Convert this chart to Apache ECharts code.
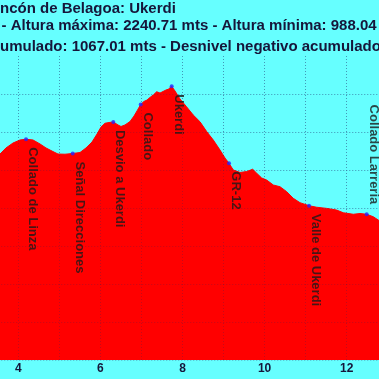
<!DOCTYPE html>
<html>
<head>
<meta charset="utf-8">
<script src="https://cdn.jsdelivr.net/npm/echarts@6/dist/echarts.min.js"></script>
<style>
html,body{margin:0;padding:0;background:#66ffff;}
#chart{width:379px;height:379px;}
</style>
</head>
<body>
<div id="chart"></div>
<script>
// Profile data: distance (km) and altitude (m)
const distKm = [3.481,3.554,3.700,3.871,4.041,4.188,4.358,4.529,4.675,4.845,4.967,5.138,5.325,5.503,5.649,5.795,5.917,6.015,6.112,6.210,6.314,6.429,6.502,6.599,6.721,6.819,6.892,6.982,7.062,7.135,7.208,7.289,7.372,7.452,7.525,7.598,7.654,7.737,7.817,7.939,8.102,8.263,8.426,8.590,8.750,8.914,9.035,9.133,9.238,9.401,9.564,9.710,9.808,9.929,10.051,10.212,10.375,10.538,10.699,10.862,11.082,11.269,11.513,11.756,11.917,12.161,12.324,12.487,12.648,12.787,12.909];
const altM = [1863,1884,1916,1942,1958,1962,1958,1937,1916,1897,1884,1883,1887,1892,1916,1947,1989,2026,2046,2050,2053,2037,2029,2037,2055,2084,2111,2145,2161,2168,2182,2195,2212,2205,2213,2221,2225,2240.71,2216,2174,2132,2089,2054,2002,1958,1905,1863,1835,1800,1787,1792,1804,1783,1758,1747,1721,1712,1686,1651,1628,1612,1604,1598,1589,1575,1567,1571,1567,1554,1534,1521];

// Waypoints
const wpNames = ['Collado de Linza','Señal Direcciones','Desvio a Ukerdi','Collado','Ukerdi','GR-12','Valle de Ukerdi','Collado Larreria'];
const wpKm = [4.188,5.325,6.314,6.982,7.737,9.133,11.082,12.487];
const wpAlt = [1962,1887,2053,2145,2240.71,1835,1612,1567];
const wpAbove = [false,false,false,false,false,false,false,true];

// Axis tick labels
const xTickLabels = [4,6,8,10,12];

// Title lines: [hidden prefix (off-canvas), visible text]
const titleLines = [
  ['Ri', 'ncón de Belagoa: Ukerdi'],
  ['', '- Altura máxima: 2240.71 mts - Altura mínima: 988.04 mts'],
  ['Desnivel positivo ac', 'umulado: 1067.01 mts - Desnivel negativo acumulado']
];

const TITLE_FONT = 'bold 15px "Liberation Sans", Arial, sans-serif';
const cv = document.createElement('canvas').getContext('2d');
cv.font = TITLE_FONT;
const titleX = [0, 1.5, 0];
const titleY = [8.5, 25.8, 46.5];

const graphics = titleLines.map((ln, i) => ({
  type: 'text',
  x: titleX[i] - cv.measureText(ln[0]).width,
  y: titleY[i],
  z: 100,
  style: {
    text: ln[0] + ln[1],
    font: TITLE_FONT,
    fill: '#16163a',
    textAlign: 'left',
    textVerticalAlign: 'middle'
  }
}));

const profile = distKm.map((d, i) => [d, altM[i]]);
const waypoints = wpNames.map((n, i) => {
  const item = { name: n, value: [wpKm[i], wpAlt[i]] };
  if (wpAbove[i]) {
    item.label = { position: 'top', align: 'right', distance: 8 };
  }
  return item;
});

const gridLeft = 18.3 - 41.05;
const gridRight = 379 - (346.7 + 41.05);

const chart = echarts.init(document.getElementById('chart'), null, { renderer: 'canvas' });
chart.setOption({
  animation: false,
  backgroundColor: '#66ffff',
  graphic: graphics,
  grid: { left: gridLeft, right: gridRight, top: 56, bottom: 19, containLabel: false, outerBoundsMode: 'none' },
  xAxis: [
    {
      type: 'value', min: 3, max: 13, interval: 1,
      axisLine: { show: false }, axisTick: { show: false },
      axisLabel: {
        margin: 3,
        color: '#16163a', fontWeight: 'bold', fontSize: 12,
        fontFamily: '"Liberation Sans", Arial, sans-serif',
        formatter: v => xTickLabels.includes(v) ? String(v) : ''
      },
      splitLine: { show: true, lineStyle: { color: '#55b8cc', type: [1, 2], width: 1 } }
    },
    {
      type: 'value', min: 3, max: 13, interval: 1, z: 5,
      axisLine: { show: false }, axisTick: { show: false }, axisLabel: { show: false },
      splitLine: { show: true, lineStyle: { color: 'rgba(0,40,110,0.22)', type: [1, 2], width: 1 } }
    }
  ],
  yAxis: [
    {
      type: 'value', min: 800, max: 2400, interval: 200,
      axisLine: { show: false }, axisTick: { show: false }, axisLabel: { show: false },
      splitLine: { show: true, showMaxLine: false, lineStyle: { color: '#55b8cc', type: [1, 2], width: 1 } }
    },
    {
      type: 'value', min: 800, max: 2400, interval: 200, z: 5,
      axisLine: { show: false }, axisTick: { show: false }, axisLabel: { show: false },
      splitLine: { show: true, showMaxLine: false, showMinLine: false, lineStyle: { color: 'rgba(0,40,110,0.22)', type: [1, 2], width: 1 } }
    }
  ],
  series: [
    {
      type: 'line', xAxisIndex: 0, yAxisIndex: 0, data: profile,
      symbol: 'none', smooth: false,
      lineStyle: { color: '#ff0000', width: 1 },
      areaStyle: { color: '#ff0000', opacity: 1 },
      z: 2
    },
    {
      type: 'scatter', xAxisIndex: 0, yAxisIndex: 0, data: waypoints,
      symbol: 'circle', symbolSize: 4,
      itemStyle: { color: '#2424ff' },
      z: 6,
      label: {
        show: true, formatter: '{b}', rotate: -90,
        position: 'bottom', distance: 6,
        align: 'left', verticalAlign: 'bottom',
        color: '#1a1a1a', fontSize: 13, fontWeight: 'bold',
        fontFamily: '"Liberation Sans", Arial, sans-serif'
      }
    }
  ]
});
</script>
</body>
</html>
